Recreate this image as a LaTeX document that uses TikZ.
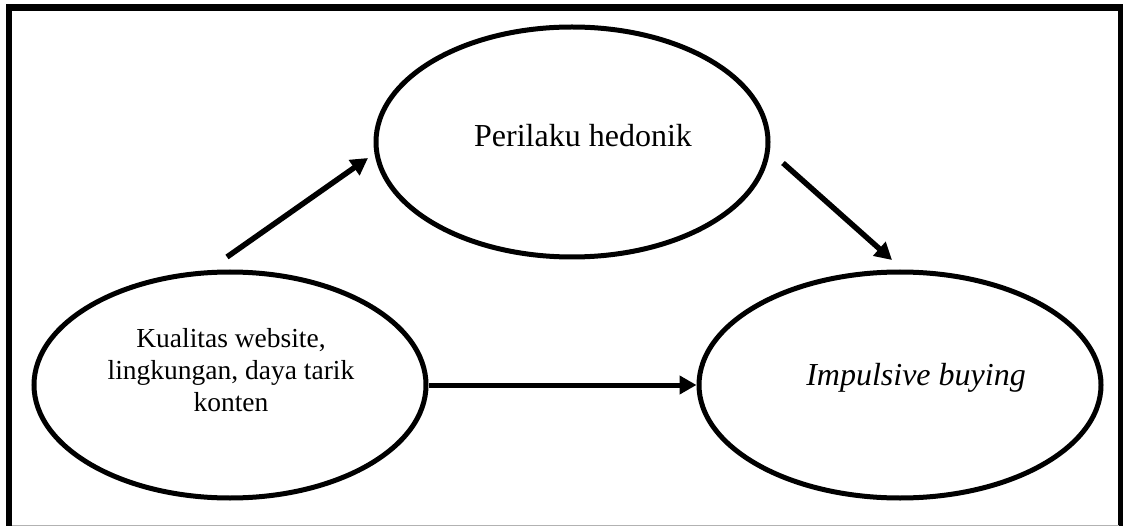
\documentclass[tikz,border=0pt]{standalone}
\usepackage{fontspec}
\setmainfont{Liberation Serif}
\usetikzlibrary{positioning,shapes.geometric,arrows.meta}

\tikzset{
  oval/.style={draw,ellipse,line width=5pt,inner sep=0pt},
  pfeil/.style={-{Triangle[length=17pt,width=18pt]},line width=5.5pt},
  rahmen/.style={line width=6.5pt}
}

\begin{document}
\begin{tikzpicture}[x=1pt,y=-1pt]
\useasboundingbox (0,0) rectangle (1123,526);

\draw[rahmen] (9,540) |- (1121,7.5) -- (1121,540);
\draw[gray!60,line width=1pt] (12,525) -- (1119,525);

\node[oval,minimum width=392pt,minimum height=230pt] (hed) at (572,142) {};
\node[oval,minimum width=392pt,minimum height=226pt] (kual) at (230,385) {};
\node[oval,minimum width=402pt,minimum height=226pt] (imp) at (900,385) {};

\node[font=\fontsize{32}{38}\selectfont] (hedtext) at (583,136) {Perilaku hedonik};
\node[font=\fontsize{27.5}{31.7}\selectfont,align=center] (kualtext) at (231,370) {Kualitas website,\\lingkungan, daya tarik\\konten};
\node[font=\fontsize{32}{38}\selectfont\itshape] (imptext) at (916,378) {Impulsive buying};

\coordinate (a1) at (227,257);
\coordinate (b1) at (368,158);
\coordinate (a2) at (783,163);
\coordinate (b2) at (892,260);

\draw[pfeil](a1)--(b1);
\draw[pfeil](a2)--(b2);
\draw[pfeil,line width=5pt](kual.east)--(imp.west);
\end{tikzpicture}
\end{document}
